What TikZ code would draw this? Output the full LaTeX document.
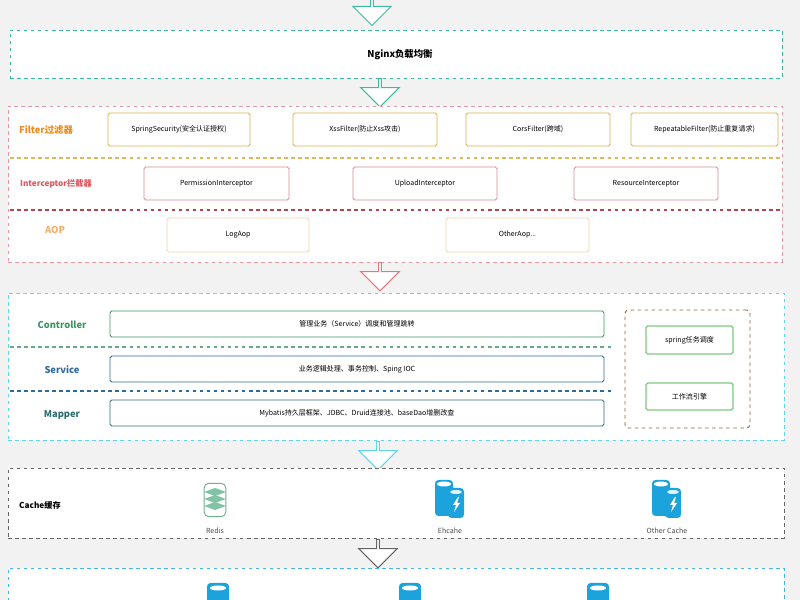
\documentclass[tikz,border=0pt]{standalone}
\usepackage{fontspec}
\setmainfont{Noto Sans CJK SC}
\usetikzlibrary{fit,shapes.arrows}
\definecolor{bg}{HTML}{F2F2F2}
\definecolor{ngx}{HTML}{3DBB9E}
\definecolor{flt}{HTML}{E597A3}
\definecolor{fbox}{HTML}{D8B24A}
\definecolor{ibox}{HTML}{D98A96}
\definecolor{abox}{HTML}{F0D2B0}
\definecolor{forg}{HTML}{F08A1C}
\definecolor{ired}{HTML}{E05660}
\definecolor{aorg}{HTML}{F2AE6A}
\definecolor{mcy}{HTML}{62D4E2}
\definecolor{cgr}{HTML}{3F9466}
\definecolor{sbl}{HTML}{2F6A9A}
\definecolor{mdk}{HTML}{2F6F6F}
\definecolor{brn}{HTML}{8A6A3A}
\definecolor{lgr}{HTML}{7CCB7C}
\definecolor{dbb}{HTML}{1CA3DC}
\definecolor{rgr}{HTML}{8FD9B6}
\tikzset{
 x=0.03cm,y=-0.03cm,
 panel/.style={draw, dashed, fill=white, inner sep=0pt, line width=0.6pt},
 bx/.style={draw, fill=white, rounded corners=1.5pt, inner sep=0pt, line width=0.7pt},
 btxt/.style={font=\fontsize{6}{7}\selectfont, inner sep=0pt},
 lab/.style={font=\fontsize{8}{9}\selectfont\bfseries, inner sep=0pt},
 icap/.style={font=\fontsize{6}{7}\selectfont, text=black!70, inner sep=0pt},
 harrow/.style={single arrow, draw=#1, fill=white, line width=0.8pt, shape border rotate=270, minimum height=0.85cm, minimum width=1.15cm, single arrow head extend=0.18cm, inner sep=0pt},
 div/.style={dashed, line width=0.9pt},
}
\newcommand\bxn[5][]{\node[bx,#1,fit={#3 #4}] (#2) {}; \node[btxt] (#2-t) at (#2.center) {#5};}
\newcommand\db[2]{% name, center
 \begin{scope}[shift={#2}]
  \fill[dbb,rounded corners=3pt] (-15,-18) rectangle (3,18);
  \fill[white] (-6,-14) ellipse (7 and 2.5);
  \fill[dbb,rounded corners=3pt] (-2,-10) rectangle (14,20);
  \fill[white!85!dbb] (6,-6) ellipse (6 and 2);
  \fill[white] (8,-1) -- (3,7) -- (6,7) -- (4,14) -- (10,5) -- (7,5) -- (9,-1) -- cycle;
 \end{scope}
 \coordinate (#1) at #2;}
\begin{document}
\begin{tikzpicture}
\useasboundingbox (0,0) rectangle (800,600);
\fill[bg] (0,0) rectangle (800,600);
\node[harrow=ngx, minimum height=0.95cm] (a0) at (372,9) {};
\node[panel, draw=ngx, fit={(10,30)(782,78)}] (ngx) {};
\node[lab] (ngxt) at (400,55) {Nginx负载均衡};
\node[harrow=ngx] (a1) at (380,92) {};
% Filter panel
\node[panel, draw=flt, fit={(8,106)(782,262)}] (fp) {};
\draw[div, draw=fbox!90] (10,158) -- (780,158);
\draw[div, draw=ired!80!black] (10,210) -- (780,210);
\node[lab, text=forg] (fl) at (46,130) {Filter过滤器};
\bxn[draw=fbox]{f1}{(108,113)}{(250,146)}{SpringSecurity(安全认证授权)}
\bxn[draw=fbox]{f2}{(293,113)}{(437,146)}{XssFilter(防止Xss攻击)}
\bxn[draw=fbox]{f3}{(466,113)}{(610,146)}{CorsFilter(跨域)}
\bxn[draw=fbox]{f4}{(631,113)}{(778,146)}{RepeatableFilter(防止重复请求)}
\node[lab, text=ired, font=\fontsize{7}{8}\selectfont\bfseries] (il) at (56,184) {Interceptor拦截器};
\bxn[draw=ibox]{i1}{(144,167)}{(289,200)}{PermissionInterceptor}
\bxn[draw=ibox]{i2}{(353,167)}{(497,200)}{UploadInterceptor}
\bxn[draw=ibox]{i3}{(574,167)}{(718,200)}{ResourceInterceptor}
\node[lab, text=aorg] (al) at (55,230) {AOP};
\bxn[draw=abox]{ao1}{(167,218)}{(309,252)}{LogAop}
\bxn[draw=abox]{ao2}{(446,218)}{(589,252)}{OtherAop...}
\node[harrow=ired!80] (a2) at (380,276) {};
% main panel
\node[panel, draw=mcy, fit={(8,293)(784,440)}] (mp) {};
\draw[div, draw=cgr!80] (10,347) -- (612,347);
\draw[div, draw=sbl] (10,391) -- (612,391);
\node[lab, text=cgr] (cl) at (62,325) {Controller};
\node[lab, text=sbl] (sl) at (62,370) {Service};
\node[lab, text=mdk] (ml) at (62,415) {Mapper};
\bxn[draw=cgr]{c1}{(110,311)}{(604,337)}{管理业务（Service）调度和管理跳转}
\bxn[draw=sbl]{s1}{(110,356)}{(604,382)}{业务逻辑处理、事务控制、Sping IOC}
\bxn[draw=mdk]{m1}{(110,400)}{(604,426)}{Mybatis持久层框架、JDBC、Druid连接池、baseDao增删改查}
\node[draw=brn, dashed, line width=0.8pt, rounded corners=3pt, inner sep=0pt, fit={(625,310)(750,428)}] (rp) {};
\bxn[draw=lgr, line width=1pt]{r1}{(646,326)}{(733,354)}{spring任务调度}
\bxn[draw=lgr, line width=1pt]{r2}{(646,383)}{(733,410)}{工作流引擎}
\node[harrow=mcy] (a3) at (378,455) {};
% cache
\node[panel, draw=black!60, fit={(8,468)(784,538)}] (cp) {};
\node[lab, font=\fontsize{7}{8}\selectfont\bfseries] (cl2) at (40,505) {Cache缓存};
\node[draw=rgr!80!black, fill=white, rounded corners=4pt, line width=0.8pt, minimum width=0.65cm, minimum height=1.0cm, inner sep=0pt] (redis) at (215,500) {};
\foreach \dy in {510,503,496} {\fill[rgr!90!black] (215,\dy) -- ++(-11,-4) -- ++(11,-4) -- ++(11,4) -- cycle;}
\node[icap] (rt) at (215,531) {Redis};
\db{eh}{(450,498)}
\node[icap] (et) at (450,531) {Ehcahe};
\db{oc}{(667,498)}
\node[icap] (ot) at (667,531) {Other Cache};
\node[harrow=black!60] (a4) at (378,553) {};
% bottom
\node[panel, draw=dbb!80, fit={(8,568)(784,610)}] (bp) {};
\foreach \xx in {218,410,598} {\fill[dbb,rounded corners=3pt] (\xx-11,583) rectangle (\xx+11,610); \fill[white] (\xx,588) ellipse (8 and 2.5);}
\end{tikzpicture}
\end{document}
